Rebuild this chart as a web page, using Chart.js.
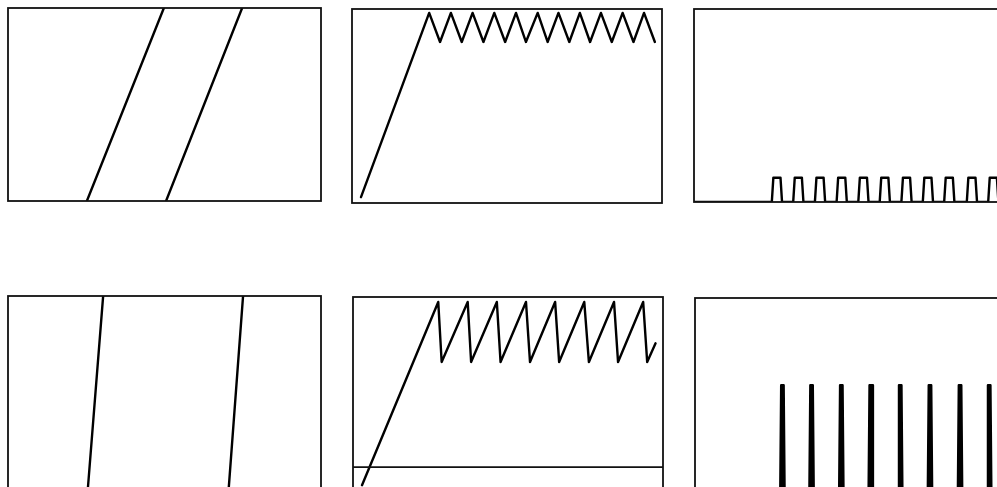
<!DOCTYPE html>
<html>
<head>
<meta charset="utf-8">
<script src="https://cdn.jsdelivr.net/npm/chart.js@4.4.1/dist/chart.umd.min.js"></script>
<style>
body { margin: 0; background: #fff; overflow: hidden; width: 997px; height: 487px; position: relative; }
canvas { position: absolute; }
</style>
</head>
<body>
<canvas id="phaseTop"></canvas>
<canvas id="sweepTop"></canvas>
<canvas id="pulseTop"></canvas>
<canvas id="phaseBottom"></canvas>
<canvas id="sweepBottom"></canvas>
<canvas id="spikeBottom"></canvas>
<script>
// --- top row ---
// phase ramps (two wraps)
var phaseTopAX = [2.52, 4.98];
var phaseTopAY = [0, 1];
var phaseTopBX = [5.05, 7.48];
var phaseTopBY = [0, 1];

// ramp then triangle oscillation
var sweepTopX = [0.29, 2.49, 2.84, 3.19, 3.54, 3.89, 4.24, 4.59, 4.94, 5.29, 5.61, 5.99,
                 6.31, 6.66, 7.01, 7.35, 7.68, 8.03, 8.38, 8.73, 9.08, 9.42, 9.77];
var sweepTopY = [0.03, 0.98, 0.83, 0.98, 0.83, 0.98, 0.83, 0.98, 0.83, 0.98, 0.83, 0.98,
                 0.83, 0.98, 0.83, 0.98, 0.83, 0.98, 0.83, 0.98, 0.83, 0.98, 0.83];

// output pulses
var pulseOn  = [2.51, 3.20, 3.90, 4.60, 5.30, 5.99, 6.69, 7.38, 8.07, 8.80, 9.49];
var pulseOff = [2.84, 3.53, 4.23, 4.93, 5.63, 6.32, 7.02, 7.71, 8.40, 9.13, 9.82];
var pulseLevel = 0.126;

// --- bottom row ---
var phaseBotAX = [2.55, 3.04];
var phaseBotAY = [0, 1];
var phaseBotBX = [7.05, 7.51];
var phaseBotBY = [0, 1];

// ramp then sawtooth
var sweepBotX = [0.29, 2.75, 2.86, 3.70, 3.81, 4.64, 4.76, 5.58, 5.71, 6.52, 6.65,
                 7.46, 7.61, 8.42, 8.55, 9.36, 9.49, 9.76];
var sweepBotY = [-0.11, 1, 0.636, 1, 0.636, 1, 0.636, 1, 0.636, 1, 0.636,
                 1, 0.636, 1, 0.636, 1, 0.636, 0.75];

// reset spikes
var spikeAt = [2.82, 3.76, 4.72, 5.67, 6.62, 7.58, 8.55, 9.49];
var spikeLevel = 0.55;

var toPoints = function(xs, ys){
    var pts = [];
    for (var i = 0; i < xs.length; i++) {
        pts.push({x: xs[i], y: ys[i]});
    }
    return pts;
}

var pulsePoints = function(){
    var pts = [{x: 0, y: 0}];
    for (var i = 0; i < pulseOn.length; i++) {
        pts.push({x: pulseOn[i], y: 0});
        pts.push({x: pulseOn[i] + 0.05, y: pulseLevel});
        pts.push({x: pulseOff[i] - 0.05, y: pulseLevel});
        pts.push({x: pulseOff[i], y: 0});
    }
    pts.push({x: 10, y: 0});
    return pts;
}

var spikePoints = function(){
    var pts = [{x: 0, y: 0}];
    for (var i = 0; i < spikeAt.length; i++) {
        pts.push({x: spikeAt[i] - 0.07, y: 0});
        pts.push({x: spikeAt[i] - 0.04, y: spikeLevel});
        pts.push({x: spikeAt[i] + 0.04, y: spikeLevel});
        pts.push({x: spikeAt[i] + 0.07, y: 0});
    }
    pts.push({x: 10, y: 0});
    return pts;
}

// box round the plot area, plus optional zero line
var framePlugin = {
    id: 'frame',
    afterDatasetsDraw: function(chart, args, opts){
        var a = chart.chartArea;
        var ctx = chart.ctx;
        ctx.save();
        ctx.strokeStyle = '#111';
        ctx.lineWidth = 1.8;
        ctx.strokeRect(a.left, a.top, a.right - a.left, a.bottom - a.top);
        if (opts.zeroLine) {
            var y = chart.scales.y.getPixelForValue(0);
            ctx.beginPath();
            ctx.moveTo(a.left, y);
            ctx.lineTo(a.right, y);
            ctx.stroke();
        }
        ctx.restore();
    }
};

var PAD = 4;

var makePanel = function(id, left, top, w, h, yMin, yMax, series, frameOpts, filled){
    var el = document.getElementById(id);
    el.width = w + 2 * PAD;
    el.height = h + 2 * PAD;
    el.style.left = (left - PAD) + 'px';
    el.style.top = (top - PAD) + 'px';

    var datasets = [];
    for (var i = 0; i < series.length; i++) {
        datasets.push({
            data: series[i],
            showLine: true,
            borderColor: '#000',
            backgroundColor: '#000',
            fill: filled ? 'origin' : false,
            borderWidth: 2.4,
            borderJoinStyle: 'round',
            borderCapStyle: 'round',
            pointRadius: 0,
            tension: 0
        });
    }

    const config = {
        type: 'scatter',
        data: { datasets: datasets },
        options: {
            responsive: false,
            animation: false,
            layout: { padding: PAD },
            scales: {
                x: { type: 'linear', min: 0, max: 10, display: false },
                y: { type: 'linear', min: yMin, max: yMax, display: false }
            },
            plugins: {
                legend: { display: false },
                tooltip: { enabled: false },
                frame: frameOpts || {}
            }
        },
        plugins: [framePlugin]
    };
    return new Chart(el, config);
}

makePanel('phaseTop', 8, 8, 313, 193, 0, 1,
    [toPoints(phaseTopAX, phaseTopAY), toPoints(phaseTopBX, phaseTopBY)]);
makePanel('sweepTop', 352, 9, 310, 194, 0, 1,
    [toPoints(sweepTopX, sweepTopY)]);
makePanel('pulseTop', 694, 9, 310, 193, 0, 1,
    [pulsePoints()]);

makePanel('phaseBottom', 8, 296, 313, 193, 0, 1,
    [toPoints(phaseBotAX, phaseBotAY), toPoints(phaseBotBX, phaseBotBY)]);
makePanel('sweepBottom', 353, 297, 310, 194, -0.145, 1.03,
    [toPoints(sweepBotX, sweepBotY)], { zeroLine: true });
makePanel('spikeBottom', 695, 298, 310, 194, 0, 1,
    [spikePoints()], null, true);
</script>
</body>
</html>
